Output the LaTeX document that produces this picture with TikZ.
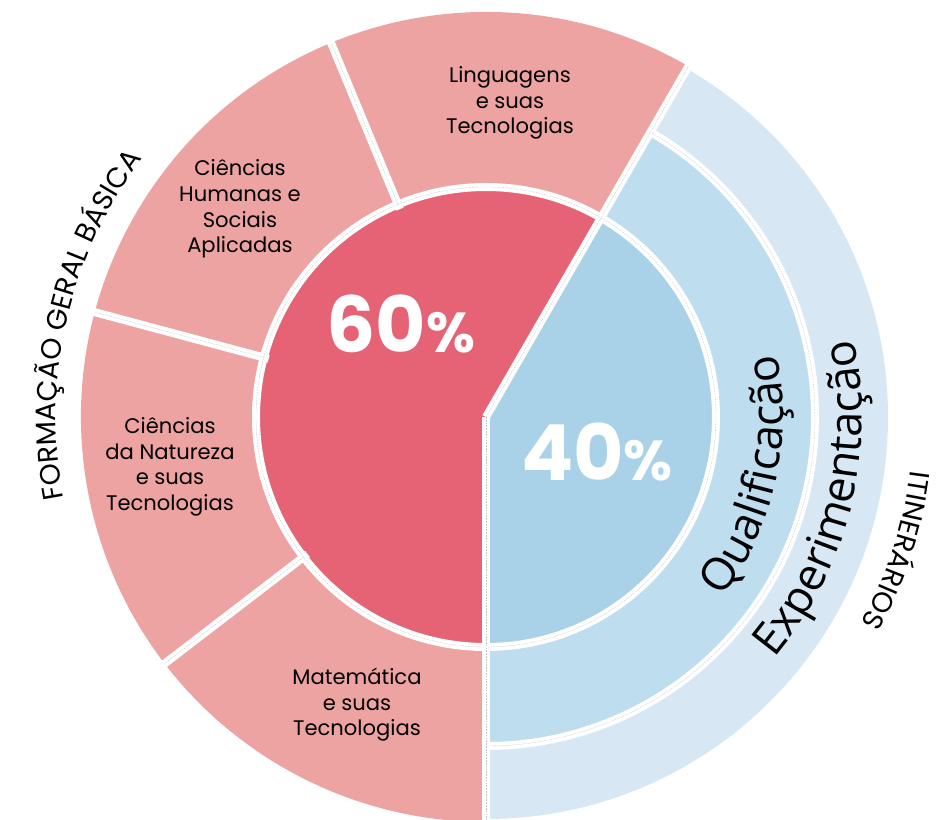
\documentclass[tikz,border=0pt]{standalone}
\usepackage{fontspec}
\setmainfont{Poppins}
\newfontfamily\arcofont{Open Sans}
\usetikzlibrary{decorations.text}

\definecolor{vermelho}{RGB}{229,99,116}
\definecolor{rosa}{RGB}{238,163,163}
\definecolor{azul}{RGB}{169,209,232}
\definecolor{azulmedio}{RGB}{190,221,239}
\definecolor{azulclaro}{RGB}{215,232,244}

\tikzset{
  corte/.style={white, line width=5.7pt},
  fio/.style={gray!45, line width=0.25pt, dash pattern=on 1.2pt off 0.8pt},
  area/.style={align=center, font=\fontsize{15}{18.2}\selectfont},
  pct/.style={anchor=base, text=white, font=\fontsize{55}{60}\selectfont\bfseries},
}

\begin{document}
\begin{tikzpicture}[scale=0.025]
	\useasboundingbox (-486,-402) rectangle (450,417);
	\fill[rosa] (0,0) -- (60:405) arc (60:270:405) -- cycle;            % Formação geral básica
	\fill[azulclaro] (0,0) -- (-90:402) arc (-90:60:402) -- cycle;      % Experimentação
	\fill[azulmedio] (0,0) -- (-90:329) arc (-90:60:329) -- cycle;      % Qualificação
	\fill[vermelho] (0,0) -- (60:230) arc (60:270:230) -- cycle;        % 60%
	\fill[azul] (0,0) -- (-90:230) arc (-90:60:230) -- cycle;           % 40%
	% Cortes brancos
	\draw[corte] (0,0) circle (230);
	\draw[corte] (-90:329) arc (-90:60:329);
	\draw[corte] (0,0) -- (60:410);
	\draw[corte] (0,0) -- (-90:410);
	\foreach \a in {112.5,165,217.5}
		\draw[corte] (\a:225) -- (\a:410);
	% Fios tracejados
	\draw[fio] (0,0) circle (230);
	\draw[fio] (-90:329) arc (-90:60:329);
	\draw[fio] (0,0) -- (60:405);
	\draw[fio] (0,0) -- (-90:405);
	\foreach \a in {112.5,165,217.5}
		\draw[fio] (\a:230) -- (\a:405);
	% Áreas
	\node[area] (s1) at (24,314) {Linguagens\\e suas\\Tecnologias};
	\node[area] (s2) at (-246,208) {Ciências\\Humanas e\\Sociais\\Aplicadas};
	\node[area] (s3) at (-316,-50) {Ciências\\da Natureza\\e suas\\Tecnologias};
	\node[area] (s4) at (-129,-288) {Matemática\\e suas\\Tecnologias};
	% Porcentagens
	\node[pct] (p1) at (-85,65) {60{\fontsize{40}{44}\selectfont\%}};
	\node[pct] (p2) at (111,-63) {40{\fontsize{40}{44}\selectfont\%}};
	% Textos curvos
	\path[decorate, decoration={text along path, text align=center,
		text={|\fontsize{20}{24}\selectfont|FORMAÇÃO GERAL BÁSICA}}] (200:430) arc (200:134:430);
	\path[decorate, decoration={text along path, text align=center,
		text={|\fontsize{20}{24}\selectfont|ITINERÁRIOS}}] (8:428) arc (8:-44:428);
	\path[decorate, decoration={text along path, text align=center,
		text={|\arcofont\fontsize{32}{37}\selectfont|Qualificação}}] (-46:297) arc (-46:21:297);
	\path[decorate, decoration={text along path, text align=center,
		text={|\arcofont\fontsize{32}{37}\selectfont|Experimentação}}] (-53:376) arc (-53:25:376);
\end{tikzpicture}
\end{document}
